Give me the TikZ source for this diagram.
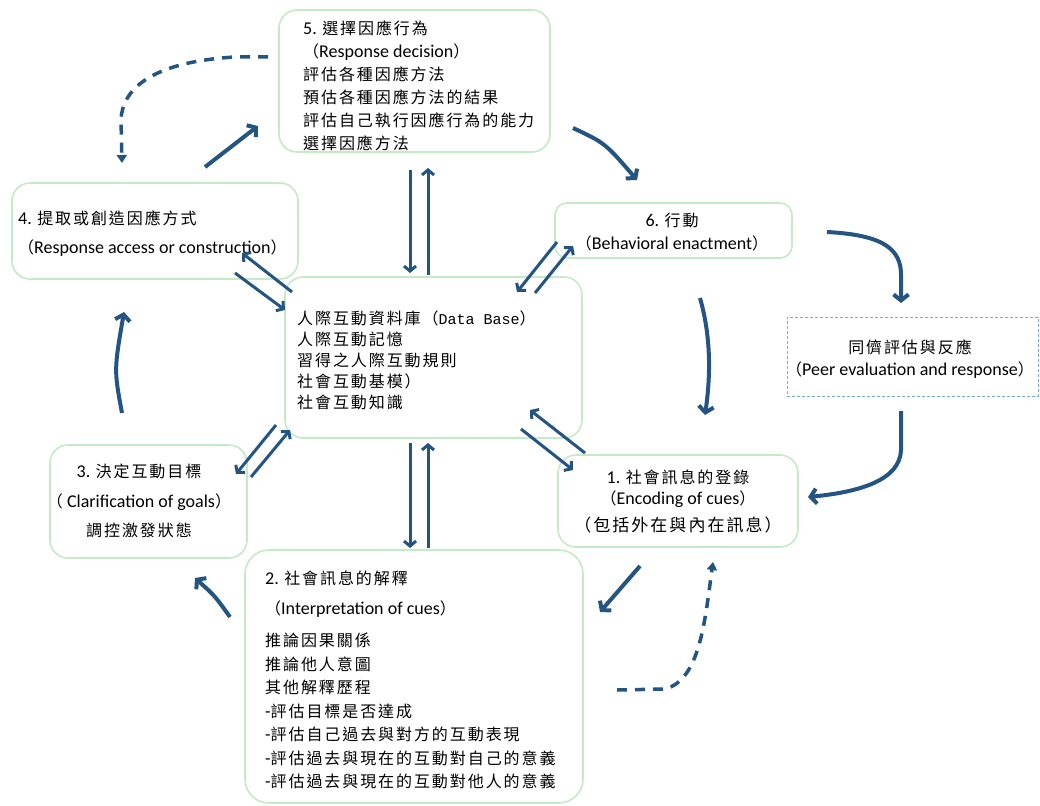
\documentclass[tikz,border=0pt]{standalone}
\usepackage{fontspec}
\setmainfont{Carlito}
\newfontfamily\cjkf[LetterSpace=12]{Noto Sans CJK TC}
\newfontfamily\monof{Liberation Mono}
\newcommand\zht[1]{{\cjkf\fontsize{16}{23}\selectfont #1}}
\usetikzlibrary{arrows.meta}
\definecolor{arrowc}{HTML}{245482}
\definecolor{boxc}{RGB}{196,234,198}
\definecolor{peerc}{RGB}{120,170,220}
\tikzset{
  box/.style={draw=boxc, line width=1.6pt, rounded corners=18pt, inner sep=0pt},
  peerbox/.style={draw=peerc, line width=0.9pt, dash pattern=on 3pt off 2pt, inner sep=0pt},
  txt/.style={inner sep=0pt, font=\fontsize{18}{23}\selectfont, text=black},
  arr/.style={draw=arrowc, line width=4pt, -{Straight Barb[length=6pt,width=15pt]}},
  arrs/.style={draw=arrowc, line width=3pt, -{Straight Barb[length=5pt,width=12pt]}},
  darr/.style={draw=arrowc, line width=3.5pt, dash pattern=on 10pt off 8pt, -{Triangle[length=8pt,width=10pt]}}
}
\begin{document}
\begin{tikzpicture}[x=1pt,y=-1pt]
\useasboundingbox[fill=white] (0,0) rectangle (1040,805);
% boxes
\node[box, minimum width=271pt, minimum height=142pt] (b5) at (414.5,81) {};
\node[box, minimum width=286pt, minimum height=96pt] (b4) at (155,231) {};
\node[box, rounded corners=12pt, minimum width=237pt, minimum height=55pt] (b6) at (673.5,230.5) {};
\node[box, minimum width=297pt, minimum height=161pt] (db) at (433.5,357.5) {};
\node[peerbox, minimum width=251pt, minimum height=79pt] (peer) at (912.5,356.5) {};
\node[box, minimum width=197pt, minimum height=113pt] (b3) at (148.5,501.5) {};
\node[box, minimum width=240pt, minimum height=92pt] (b1) at (678,501) {};
\node[box, rounded corners=24pt, minimum width=338pt, minimum height=253pt] (b2) at (414,676.5) {};
% texts
\node[txt, anchor=north west, align=left] (t5) at (303,21) {5. \zht{選擇因應行為}\\
\zht{（}Response decision\zht{）}\\
\zht{評估各種因應方法}\\
\zht{預估各種因應方法的結果}\\
\zht{評估自己執行因應行為的能力}\\
\zht{選擇因應方法}};
\node[txt, anchor=north west, align=left, font=\fontsize{18}{29}\selectfont] (t4) at (18,211) {4. \zht{提取或創造因應方式}\\
\zht{（}Response access or construction\zht{）}};
\node[txt, anchor=north, align=center] (t6) at (672,213) {6. \zht{行動}\\
\zht{（}Behavioral enactment\zht{）}};
\node[txt, anchor=north west, align=left, font=\fontsize{18}{21}\selectfont] (tdb) at (297,311) {\zht{人際互動資料庫（}{\monof\fontsize{15}{21}\selectfont Data Base}\zht{）}\\
\zht{人際互動記憶}\\
\zht{習得之人際互動規則}\\
\zht{社會互動基模）}\\
\zht{社會互動知識}};
\node[txt, anchor=north, align=center, font=\fontsize{18}{22}\selectfont] (tpeer) at (910,340) {\zht{同儕評估與反應}\\
\zht{（}Peer evaluation and response\zht{）}};
\node[txt, anchor=north, align=center, font=\fontsize{18}{29.5}\selectfont] (t3) at (139,464) {3. \zht{決定互動目標}\\
\zht{（} Clarification of goals\zht{）}\\
\zht{調控激發狀態}};
\node[txt, anchor=north, align=center, font=\fontsize{18}{21}\selectfont] (t1) at (678,470) {1. \zht{社會訊息的登錄}\\
\zht{（}Encoding of cues\zht{）}\\[6pt]
\zht{\fontsize{17}{21}\selectfont（包括外在與內在訊息）}};
\node[txt, anchor=north west, align=left, font=\fontsize{18}{23.5}\selectfont] (t2) at (265,571) {2. \zht{社會訊息的解釋}\\[6.5pt]
\zht{（}Interpretation of cues\zht{）}\\[8.5pt]
\zht{推論因果關係}\\
\zht{推論他人意圖}\\
\zht{其他解釋歷程}\\
-\zht{評估目標是否達成}\\
-\zht{評估自己過去與對方的互動表現}\\
-\zht{評估過去與現在的互動對自己的意義}\\
-\zht{評估過去與現在的互動對他人的意義}};
% arrow end points
\coordinate (a1s) at (205,167);  \coordinate (a1e) at (258,126);
\coordinate (a2s) at (573,128);  \coordinate (a2e) at (637,180);
\coordinate (a3s) at (827,232);  \coordinate (a3e) at (901,303);
\coordinate (a4s) at (700,298);  \coordinate (a4e) at (705,415);
\coordinate (a5s) at (901,411);  \coordinate (a5e) at (808,497);
\coordinate (a6s) at (640,566);  \coordinate (a6e) at (600,612);
\coordinate (a7s) at (617,690);  \coordinate (a7e) at (713,562);
\coordinate (a8s) at (230,617);  \coordinate (a8e) at (195,578);
\coordinate (a9s) at (122,413);  \coordinate (a9e) at (124,312);
\coordinate (a10s) at (268,57);  \coordinate (a10e) at (122,163);
% main cycle arrows
\draw[arr] (a1s) -- (a1e);
\draw[arr] (a2s) .. controls (605,143) .. (a2e);
\draw[arr] (a3s) .. controls (885,235) and (901,250) .. (901,275) -- (a3e);
\draw[arr] (a4s) .. controls (712,340) and (710,380) .. (a4e);
\draw[arr] (a5s) -- (901,450) .. controls (900,480) and (860,492) .. (a5e);
\draw[arr] (a6s) -- (a6e);
\draw[darr] (a7s) -- (665,689) .. controls (700,680) and (705,620) .. (a7e);
\draw[arr] (a8s) .. controls (215,596) .. (a8e);
\draw[arr] (a9s) .. controls (114,370) .. (a9e);
\draw[darr] (a10s) -- (235,57) .. controls (150,62) and (122,90) .. (121,120) -- (a10e);
% data base exchanges
\coordinate (c1s) at (410,170); \coordinate (c1e) at (410,273);
\coordinate (c2s) at (428,275); \coordinate (c2e) at (428,168);
\coordinate (c3s) at (410,443); \coordinate (c3e) at (410,548);
\coordinate (c4s) at (428,548); \coordinate (c4e) at (428,443);
\coordinate (c5s) at (292,292); \coordinate (c5e) at (242,253);
\coordinate (c6s) at (235,273); \coordinate (c6e) at (285,310);
\coordinate (c7s) at (557,242); \coordinate (c7e) at (517,292);
\coordinate (c8s) at (535,293); \coordinate (c8e) at (573,246);
\coordinate (c9s) at (585,453); \coordinate (c9e) at (530,410);
\coordinate (c10s) at (521,429); \coordinate (c10e) at (573,470);
\coordinate (c11s) at (276,425); \coordinate (c11e) at (236,474);
\coordinate (c12s) at (251,477); \coordinate (c12e) at (290,430);
\foreach \i in {1,...,12} \draw[arrs] (c\i s) -- (c\i e);
\end{tikzpicture}
\end{document}
